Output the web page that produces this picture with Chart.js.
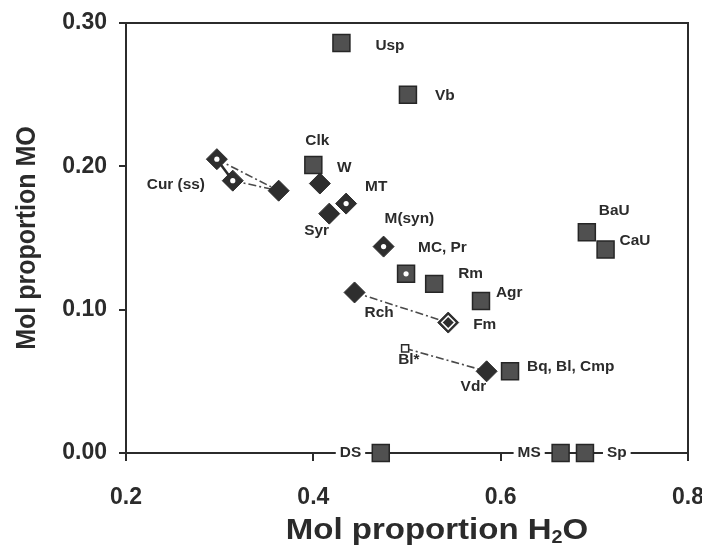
<!DOCTYPE html>
<html>
<head>
<meta charset="utf-8">
<script src="https://cdn.jsdelivr.net/npm/chart.js@4.4.1/dist/chart.umd.min.js"></script>
<style>
  html, body { margin: 0; padding: 0; background: #fff; }
</style>
</head>
<body>
<canvas id="chart" width="702" height="553"></canvas>
<script>
// Mol proportion H2O (x) / MO (y)

// grey squares
const squareIds = ["Usp", "Vb", "Clk", "MC", "Rm", "Agr", "Bq", "BaU", "CaU", "DS", "MS", "Sp"];
const squareH2O = [0.430, 0.501, 0.400, 0.499, 0.529, 0.579, 0.610, 0.692, 0.712, 0.472, 0.664, 0.690];
const squareMO  = [0.286, 0.250, 0.201, 0.125, 0.118, 0.106, 0.057, 0.154, 0.142, 0.000, 0.000, 0.000];

// filled diamonds
const filledIds = ["W", "Syr", "CurF", "Rch", "Fm", "Vdr"];
const filledH2O = [0.407, 0.417, 0.363, 0.444, 0.544, 0.585];
const filledMO  = [0.188, 0.167, 0.183, 0.112, 0.091, 0.057];

// open diamonds (white centre)
const openIds = ["MT", "Msyn", "Cur1", "Cur2"];
const openH2O = [0.435, 0.475, 0.297, 0.314];
const openMO  = [0.174, 0.144, 0.205, 0.190];

// small open square
const smallIds = ["Bl*"];
const smallH2O = [0.498];
const smallMO  = [0.073];

// tie lines between phases
const solidLines = [["Cur1", "Cur2"]];
const dashLines = [["Cur1", "CurF"], ["Cur2", "CurF"], ["Rch", "Fm"], ["Bl*", "Vdr"]];

const xTickValues = [0.2, 0.4, 0.6, 0.8];
const yTickValues = [0.0, 0.1, 0.2, 0.3];

// label text where it differs from the id ("" = no label)
const labelText = {
  MC: "MC, Pr", Bq: "Bq, Bl, Cmp", Msyn: "M(syn)",
  Cur2: "Cur (ss)", Cur1: "", CurF: ""
};

// label placement: [dx to left edge, dy to middle] in px from the marker
const labelOffset = {
  Usp: [34, 3], Vb: [27, 1], Clk: [-8, -24], W: [17, -15], MT: [19, -16],
  Syr: [-25, 18], Cur2: [-86, 4], Msyn: [1, -27], MC: [12, -26], Rm: [24, -10],
  Agr: [15, -8], Rch: [10, 21], Fm: [25, 3], "Bl*": [-7, 12], Vdr: [-26, 16],
  Bq: [17, -4], BaU: [12, -21], CaU: [14, -8], DS: [-41, 0], MS: [-43, 0], Sp: [22, 0]
};
const onAxis = ["DS", "MS", "Sp"];
const whiteDots = ["MT", "Msyn", "Cur1", "Cur2", "MC"];

const INK = "#2b2b2b";
const FONT = "'Liberation Sans', Arial, Helvetica, sans-serif";

function points(ids, xs, ys) {
  return ids.map((id, i) => ({ x: xs[i], y: ys[i], id }));
}
const squares = points(squareIds, squareH2O, squareMO);
const filled = points(filledIds, filledH2O, filledMO);
const open = points(openIds, openH2O, openMO);
const small = points(smallIds, smallH2O, smallMO);
const byId = {};
[...squares, ...filled, ...open, ...small].forEach((p) => (byId[p.id] = p));
const pick = (ids) => ids.map((id) => ({ x: byId[id].x, y: byId[id].y }));

const datasets = [];
solidLines.forEach((pair) => {
  datasets.push({ data: pick(pair), showLine: true, pointRadius: 0, borderColor: INK, borderWidth: 2.5, order: 3 });
});
dashLines.forEach((pair) => {
  datasets.push({ data: pick(pair), showLine: true, pointRadius: 0, borderColor: "#4a4a4a", borderWidth: 1.6, borderDash: [8, 3, 2, 3], order: 3 });
});
datasets.push(
  { data: squares, pointStyle: "rect", pointRadius: 12, backgroundColor: "#505050", borderColor: "#262626", borderWidth: 1.5, order: 2 },
  { data: filled, pointStyle: "rectRot", pointRadius: 10.5, backgroundColor: "#2e2e2e", borderColor: "#2e2e2e", borderWidth: 1, order: 2 },
  { data: open, pointStyle: "rectRot", pointRadius: 10.5, backgroundColor: "#2e2e2e", borderColor: "#2e2e2e", borderWidth: 1, order: 2 },
  { data: small, pointStyle: "rect", pointRadius: 5, backgroundColor: "#fff", borderColor: INK, borderWidth: 1.5, order: 2 },
  { data: pick(whiteDots), pointStyle: "circle", pointRadius: 2.6, backgroundColor: "#fff", borderWidth: 0, order: 1 },
  { data: pick(["Fm"]), pointStyle: "rectRot", pointRadius: 6.5, backgroundColor: "rgba(0,0,0,0)", borderColor: "#fff", borderWidth: 1.5, order: 1 }
);
datasets.forEach((d) => (d.clip = false));

// box, axis titles and point labels
const decor = {
  id: "decor",
  beforeDatasetsDraw(chart) {
    const { ctx, chartArea: a } = chart;
    ctx.save();
    ctx.strokeStyle = INK;
    ctx.lineWidth = 2;
    ctx.strokeRect(a.left, a.top, a.right - a.left, a.bottom - a.top);
    ctx.restore();
  },
  afterDatasetsDraw(chart) {
    const { ctx, chartArea: a, scales: { x, y } } = chart;
    ctx.save();
    ctx.fillStyle = INK;
    ctx.textBaseline = "middle";
    ctx.textAlign = "left";

    // point labels
    ctx.font = "bold 14px " + FONT;
    Object.values(byId).forEach((p) => {
      const text = p.id in labelText ? labelText[p.id] : p.id;
      if (!text) return;
      const off = labelOffset[p.id] || [14, 0];
      const px = x.getPixelForValue(p.x) + off[0];
      const py = y.getPixelForValue(p.y) + off[1];
      const w = ctx.measureText(text).width * 1.1;
      if (onAxis.includes(p.id)) {
        ctx.fillStyle = "#fff";
        ctx.fillRect(px - 4, py - 8, w + 8, 16);
        ctx.fillStyle = INK;
      }
      ctx.save();
      ctx.translate(px, py);
      ctx.scale(1.1, 1);
      ctx.fillText(text, 0, 0);
      ctx.restore();
    });

    // x title with subscript
    const big = "bold 30px " + FONT, sub = "bold 18px " + FONT;
    ctx.font = big;
    const w1 = ctx.measureText("Mol proportion H").width;
    const w3 = ctx.measureText("O").width;
    ctx.font = sub;
    const w2 = ctx.measureText("2").width;
    ctx.save();
    ctx.translate((a.left + a.right) / 2 + 30, 531);
    ctx.scale(1.1, 1);
    let cx = -(w1 + w2 + w3) / 2;
    ctx.font = big; ctx.fillText("Mol proportion H", cx, 0); cx += w1;
    ctx.font = sub; ctx.fillText("2", cx, 7); cx += w2;
    ctx.font = big; ctx.fillText("O", cx, 0);
    ctx.restore();

    // y title
    ctx.save();
    ctx.translate(27, (a.top + a.bottom) / 2);
    ctx.rotate(-Math.PI / 2);
    ctx.scale(1, 1.12);
    ctx.textAlign = "center";
    ctx.font = "bold 25px " + FONT;
    ctx.fillText("Mol proportion MO", 0, 0);
    ctx.restore();
    ctx.restore();
  }
};

new Chart(document.getElementById("chart"), {
  type: "scatter",
  data: { datasets },
  options: {
    responsive: false,
    animation: false,
    events: [],
    layout: { padding: { left: 0, top: 23, right: 14, bottom: 0 } },
    plugins: { legend: { display: false }, tooltip: { enabled: false } },
    scales: {
      x: {
        min: 0.2,
        max: 0.8,
        afterBuildTicks: (s) => { s.ticks = xTickValues.map((v) => ({ value: v })); },
        afterFit: (s) => { s.height = 100; s.paddingLeft = 0; s.paddingRight = 0; },
        ticks: {
          callback: (v) => Number(v).toFixed(1),
          font: { family: FONT, size: 23, weight: "bold" },
          color: INK,
          padding: 23
        },
        grid: { drawOnChartArea: false, tickLength: 8, color: INK, lineWidth: 2 },
        border: { color: INK, width: 2 }
      },
      y: {
        min: 0,
        max: 0.3,
        afterBuildTicks: (s) => { s.ticks = yTickValues.map((v) => ({ value: v })); },
        afterFit: (s) => { s.width = 126; s.paddingTop = 0; s.paddingBottom = 0; },
        ticks: {
          callback: (v) => Number(v).toFixed(2),
          font: { family: FONT, size: 23, weight: "bold" },
          color: INK,
          padding: 12
        },
        grid: { drawOnChartArea: false, tickLength: 7, color: INK, lineWidth: 2 },
        border: { color: INK, width: 2 }
      }
    }
  },
  plugins: [decor]
});
</script>
</body>
</html>
